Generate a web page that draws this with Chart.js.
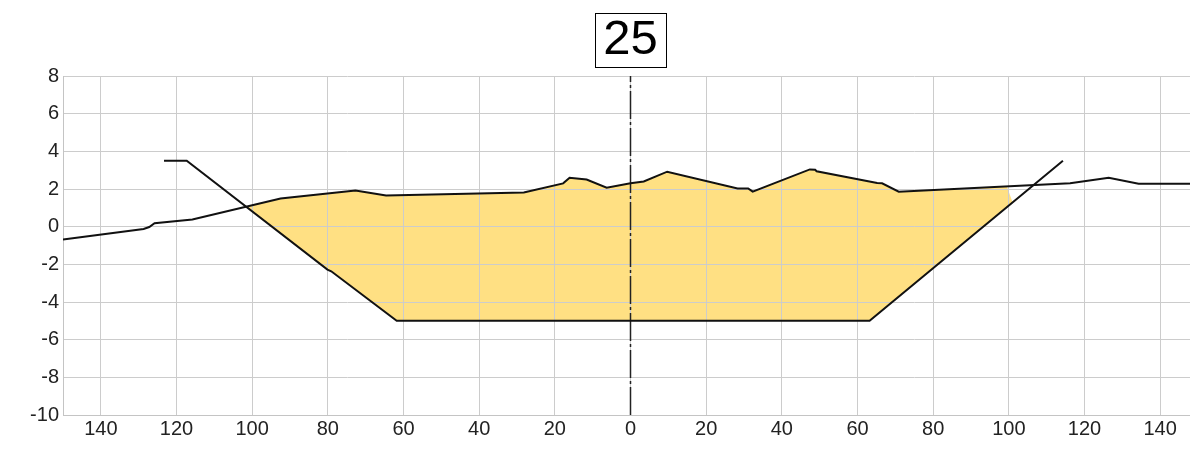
<!DOCTYPE html>
<html>
<head>
<meta charset="utf-8">
<script src="https://cdn.jsdelivr.net/npm/chart.js@4.4.1/dist/chart.umd.min.js"></script>
<style>
  html, body { margin: 0; padding: 0; background: #fff; overflow: hidden; }
  #wrap { width: 1198px; height: 450px; }
</style>
</head>
<body>
<div id="wrap"><canvas id="section"></canvas></div>
<script>
// Cross-section 25: existing ground vs design cut
const sectionTitle = '25';

const groundX = [-150, -128.7, -127.2, -125.8, -115.8, -92.5, -72.7, -64.6, -28.2, -17.8, -16.1, -11.6, -6.3, 0, 3.5, 9.7, 28.3, 31.1, 32.3, 47.4, 48.8, 49.2, 65.2, 66.5, 70.9, 116.2, 126.4, 134.3, 150];
const groundY = [-0.68, -0.12, -0.02, 0.18, 0.38, 1.5, 1.92, 1.66, 1.82, 2.3, 2.6, 2.5, 2.07, 2.3, 2.4, 2.92, 2.03, 2.03, 1.86, 3.04, 3.02, 2.94, 2.32, 2.3, 1.86, 2.3, 2.6, 2.28, 2.28];

const designX = [-123.3, -117.3, -80.1, -79.1, -61.8, 63.2, 114.3];
const designY = [3.5, 3.5, -2.28, -2.37, -5, -5, 3.5];

const centerX = [0, 0];
const centerY = [-10, 8];

// right edge of the shaded area (top on ground, bottom on design line)
const fillEndX = [99.5, 101];

const xTicks = [-140, -120, -100, -80, -60, -40, -20, 0, 20, 40, 60, 80, 100, 120, 140];
const xTickLabels = ['140', '120', '100', '80', '60', '40', '20', '0', '20', '40', '60', '80', '100', '120', '140'];

const pts = (xs, ys) => xs.map((x, i) => ({ x, y: ys[i] }));
const ground = pts(groundX, groundY);
const design = pts(designX, designY);

function yAt(line, x) {
  for (let i = 1; i < line.length; i++) {
    const a = line[i - 1], b = line[i];
    if (x >= a.x && x <= b.x) return a.y + (b.y - a.y) * (x - a.x) / (b.x - a.x);
  }
  return null;
}

// where the left slope meets the ground
function leftCrossing() {
  let lo = designX[1], hi = designX[2];
  for (let i = 0; i < 40; i++) {
    const mid = (lo + hi) / 2;
    if (yAt(ground, mid) - yAt(design, mid) < 0) lo = mid; else hi = mid;
  }
  return { x: lo, y: yAt(ground, lo) };
}

const cross = leftCrossing();
const cutArea = [
  cross,
  ...ground.filter(p => p.x > cross.x && p.x < fillEndX[0]),
  { x: fillEndX[0], y: yAt(ground, fillEndX[0]) },
  { x: fillEndX[1], y: yAt(design, fillEndX[1]) },
  ...design.filter(p => p.x > cross.x && p.x < fillEndX[1]).reverse()
];

const titleBox = {
  id: 'titleBox',
  afterDraw(chart) {
    const tb = chart.titleBlock;
    const opts = chart.options.plugins.title;
    const font = Chart.helpers.toFont(opts.font);
    const pad = Chart.helpers.toPadding(opts.padding);
    const ctx = chart.ctx;
    ctx.save();
    ctx.font = font.string;
    const w = ctx.measureText(opts.text).width;
    const cx = (tb.left + tb.right) / 2;
    const cy = tb.top + pad.top + font.lineHeight / 2;
    ctx.strokeStyle = '#000';
    ctx.lineWidth = 1;
    ctx.strokeRect(Math.round(cx - w / 2 - 8) + 0.5, Math.round(cy - 27) + 0.5, Math.round(w + 16), 54);
    ctx.restore();
  }
};

Chart.defaults.font.family = '"Liberation Sans", Arial, sans-serif';

new Chart(document.getElementById('section'), {
  type: 'scatter',
  data: {
    datasets: [
      {
        data: cutArea,
        showLine: true,
        fill: 'shape',
        backgroundColor: '#ffe083',
        borderWidth: 0,
        pointRadius: 0,
      },
      {
        data: ground,
        showLine: true,
        borderColor: '#111',
        borderWidth: 2,
        pointRadius: 0,
      },
      {
        data: design,
        showLine: true,
        borderColor: '#111',
        borderWidth: 2,
        pointRadius: 0,
      },
      {
        data: pts(centerX, centerY),
        showLine: true,
        borderColor: '#222',
        borderWidth: 1.5,
        borderDash: [28, 3, 3, 3],
        pointRadius: 0,
      },
    ],
  },
  options: {
    responsive: true,
    maintainAspectRatio: false,
    animation: false,
    layout: { padding: 0 },
    plugins: {
      legend: { display: false },
      tooltip: { enabled: false },
      filler: { drawTime: 'beforeDraw' },
      title: {
        display: true,
        text: sectionTitle,
        fullSize: false,
        color: '#000',
        font: { size: 49, weight: 'normal' },
        padding: { top: 11, bottom: 6.2 },
      },
    },
    scales: {
      x: {
        type: 'linear',
        min: -150,
        max: 150,
        afterBuildTicks: (axis) => {
          axis.ticks = xTicks.map(v => ({ value: v }));
        },
        afterFit: (s) => { s.height = 35; },
        ticks: {
          callback: (v, i) => xTickLabels[i],
          autoSkip: false,
          maxRotation: 0,
          color: '#222',
          font: { size: 20 },
          padding: 2,
        },
        grid: { color: '#cccccc', drawTicks: false },
        border: { color: '#c4c4c4' },
      },
      y: {
        min: -10,
        max: 8,
        afterFit: (s) => { s.width = 63; },
        ticks: {
          stepSize: 2,
          color: '#222',
          font: { size: 20 },
          padding: 4,
        },
        grid: { color: '#cccccc', drawTicks: false },
        border: { color: '#c4c4c4' },
      },
    },
  },
  plugins: [titleBox],
});
</script>
</body>
</html>
